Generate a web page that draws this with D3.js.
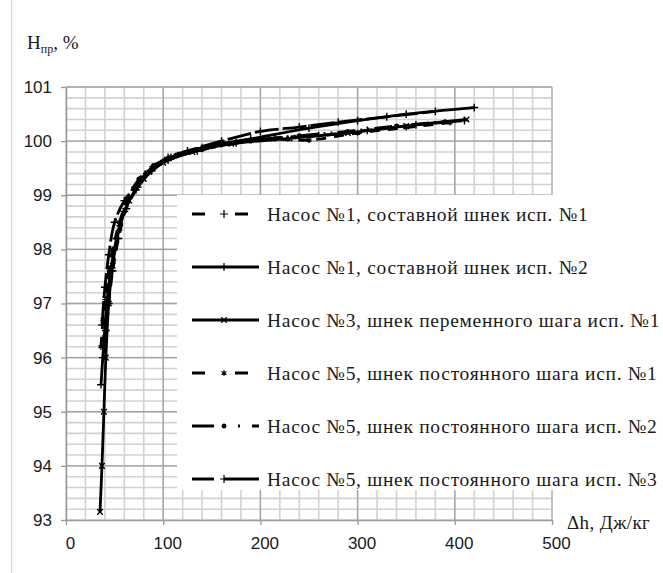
<!DOCTYPE html>
<html>
<head>
<meta charset="utf-8">
<script src="https://cdn.jsdelivr.net/npm/d3@7"></script>
<style>
  html, body { margin: 0; padding: 0; background: #fff; }
  svg { display: block; }
  .serif { font-family: "Liberation Serif", "Times New Roman", "Tinos", "DejaVu Serif", serif; }
</style>
</head>
<body>
<svg id="chart" width="663" height="573"></svg>
<script>
// Axis ticks
const xTicks = [0, 100, 200, 300, 400, 500];
const yTicks = [93, 94, 95, 96, 97, 98, 99, 100, 101];

// Series names (legend order)
const seriesNames = [
  "Насос №1, составной шнек исп. №1",
  "Насос №1, составной шнек исп. №2",
  "Насос №3, шнек переменного шага исп. №1",
  "Насос №5, шнек постоянного шага исп. №1",
  "Насос №5, шнек постоянного шага исп. №2",
  "Насос №5, шнек постоянного шага исп. №3"
];

// Δh, J/kg  →  H, %
const pump1v1 = [[38,96.0],[41,96.5],[44,97.0],[48,97.6],[54,98.2],[62,98.75],[74,99.15],[88,99.45],[105,99.65],[135,99.82],[175,99.97],[215,100.06],[260,100.1],[310,100.2],[360,100.3],[410,100.38]];
const pump1v2 = [[36,95.5],[39,96.3],[42,97.0],[46,97.6],[52,98.2],[60,98.7],[72,99.1],[88,99.45],[108,99.7],[140,99.88],[190,100.04],[250,100.24],[300,100.38],[350,100.5],[420,100.62]];
const pump3v1 = [[35,93.15],[37,94.0],[39,95.0],[41,96.0],[44,97.0],[48,97.7],[55,98.4],[65,98.9],[80,99.3],[100,99.6],[130,99.8],[170,99.95],[230,100.05],[290,100.15],[350,100.28],[412,100.4]];
const pump5v1 = [[36,96.2],[38,96.7],[40,97.1],[43,97.5],[48,98.0],[55,98.5],[64,98.95],[76,99.3],[92,99.55],[115,99.75],[150,99.9],[200,100.04],[250,100.02],[300,100.15],[350,100.25],[395,100.34]];
const pump5v2 = [[40,96.4],[43,97.0],[46,97.5],[50,98.0],[56,98.45],[64,98.95],[75,99.3],[90,99.55],[110,99.7],[140,99.84],[190,100.0],[240,100.1],[290,100.18],[340,100.28],[390,100.36]];
const pump5v3 = [[37,96.6],[40,97.3],[44,97.9],[50,98.5],[60,98.9],[71,99.15],[80,99.35],[90,99.52],[105,99.7],[125,99.82],[160,100.0],[200,100.18],[240,100.26],[280,100.35],[330,100.45],[380,100.55]];

const seriesData = [pump1v1, pump1v2, pump3v1, pump5v1, pump5v2, pump5v3];

// Line styles per series
const dashes = ["10,8", null, null, "10,8", "18,5,2,5,2,5", "24,4"];
const legendDashes = ["13,30,13", null, null, "13,30,13", "22,10,2,12,2,12", "22,10,40"];
const symbolTypes = [
  d3.symbolPlus, d3.symbolPlus, d3.symbolTimes,
  d3.symbolAsterisk || d3.symbolTimes, d3.symbolCircle, d3.symbolPlus
];

const svg = d3.select("#chart");

const x = d3.scaleLinear().domain([0, 500]).range([66, 552]);
const y = d3.scaleLinear().domain([93, 101]).range([520, 87]);

// outer frame edge
svg.append("line")
  .attr("x1", 11.5).attr("x2", 11.5).attr("y1", 0).attr("y2", 573)
  .attr("stroke", "#d6d6d6").attr("stroke-width", 1.2);

const grid = svg.append("g");

// minor grid
grid.selectAll("line.vmin").data(x.ticks(25)).join("line")
  .attr("class", "vmin")
  .attr("x1", d => x(d)).attr("x2", d => x(d))
  .attr("y1", y(93)).attr("y2", y(101))
  .attr("stroke", "#d2d2d2").attr("stroke-width", 1.6);
grid.selectAll("line.hmin").data(y.ticks(40)).join("line")
  .attr("class", "hmin")
  .attr("x1", x(0)).attr("x2", x(500))
  .attr("y1", d => y(d)).attr("y2", d => y(d))
  .attr("stroke", "#d2d2d2").attr("stroke-width", 1.6);

// major grid
grid.selectAll("line.vmaj").data(xTicks.slice(1, -1)).join("line")
  .attr("class", "vmaj")
  .attr("x1", d => x(d)).attr("x2", d => x(d))
  .attr("y1", y(93)).attr("y2", y(101))
  .attr("stroke", "#a3a3a3").attr("stroke-width", 1.3);
grid.selectAll("line.hmaj").data(yTicks.slice(1)).join("line")
  .attr("class", "hmaj")
  .attr("x1", x(0)).attr("x2", x(500))
  .attr("y1", d => y(d)).attr("y2", d => y(d))
  .attr("stroke", "#a3a3a3").attr("stroke-width", 1.3);

// plot border right
grid.append("line")
  .attr("x1", x(500)).attr("x2", x(500)).attr("y1", y(93)).attr("y2", y(101))
  .attr("stroke", "#bdbdbd").attr("stroke-width", 1.6);

// axes
const xAxis = svg.append("g")
  .attr("transform", `translate(0,${y(93)})`)
  .call(d3.axisBottom(x).tickValues(xTicks).tickSize(5).tickSizeOuter(0).tickPadding(12));
const yAxis = svg.append("g")
  .attr("transform", `translate(${x(0)},0)`)
  .call(d3.axisLeft(y).tickValues(yTicks).tickSize(5).tickSizeOuter(0).tickPadding(9));

[xAxis, yAxis].forEach(a => {
  a.select(".domain").attr("stroke", "#9a9a9a").attr("stroke-width", 1.5);
  a.selectAll(".tick line").attr("stroke", "#9a9a9a").attr("stroke-width", 1.3);
  a.selectAll(".tick text")
    .attr("fill", "#1a1a1a")
    .attr("font-family", "Liberation Sans, Arial, sans-serif")
    .attr("font-size", 17);
});
xAxis.selectAll(".tick text").attr("dx", 4);

// legend background panel
const legendX = 177, legendY = 195;
svg.append("rect")
  .attr("x", legendX).attr("y", legendY)
  .attr("width", 663 - legendX).attr("height", 490 - legendY)
  .attr("fill", "#fff");

// curves
const line = d3.line().x(d => x(d[0])).y(d => y(d[1])).curve(d3.curveCatmullRom.alpha(0.5));
const plot = svg.append("g");
seriesData.forEach((s, i) => {
  plot.append("path")
    .datum(s)
    .attr("d", line)
    .attr("fill", "none")
    .attr("stroke", "#000")
    .attr("stroke-width", 2.8)
    .attr("stroke-linejoin", "round")
    .attr("stroke-dasharray", dashes[i]);
  const sym = d3.symbol().type(symbolTypes[i]).size(i === 4 ? 10 : 22);
  plot.selectAll(null).data(s).join("path")
    .attr("transform", d => `translate(${x(d[0])},${y(d[1])})`)
    .attr("d", sym)
    .attr("fill", "#000")
    .attr("stroke", "#000")
    .attr("stroke-width", 1.4);
});

// legend entries
const rowY = [214, 267, 320, 373, 426, 479];
const legend = svg.append("g");
seriesNames.forEach((name, i) => {
  const g = legend.append("g").attr("transform", `translate(0,${rowY[i]})`);
  g.append("line")
    .attr("x1", 192).attr("x2", 259).attr("y1", 0).attr("y2", 0)
    .attr("stroke", "#000").attr("stroke-width", 3)
    .attr("stroke-dasharray", legendDashes[i]);
  g.append("path")
    .attr("transform", "translate(224,0)")
    .attr("d", d3.symbol().type(symbolTypes[i]).size(i === 4 ? 10 : 22))
    .attr("fill", "#000").attr("stroke", "#000").attr("stroke-width", 1.2);
  g.append("text")
    .attr("class", "serif")
    .attr("x", 267).attr("y", 0).attr("dy", "0.35em")
    .attr("font-size", 19.5)
    .attr("letter-spacing", 0.7)
    .attr("fill", "#1a1a1a")
    .text(name);
});

// axis titles
const yTitle = svg.append("text")
  .attr("class", "serif")
  .attr("x", 27).attr("y", 49)
  .attr("font-size", 19)
  .attr("fill", "#1a1a1a");
yTitle.append("tspan").text("H");
yTitle.append("tspan").attr("dy", 4).attr("font-size", 12).text("пр");
yTitle.append("tspan").attr("dy", -4).text(", %");

svg.append("text")
  .attr("class", "serif")
  .attr("x", 567).attr("y", 529)
  .attr("font-size", 19)
  .attr("letter-spacing", 0.4)
  .attr("fill", "#1a1a1a")
  .text("Δh, Дж/кг");
</script>
</body>
</html>
